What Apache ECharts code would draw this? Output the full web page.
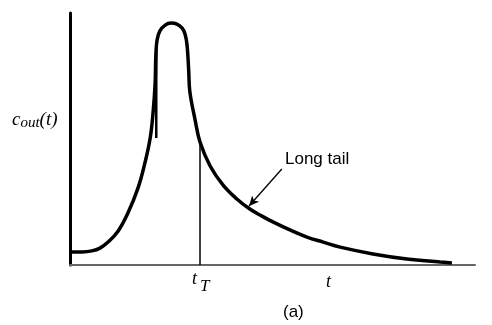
<!DOCTYPE html>
<html><head><meta charset="utf-8">
<script src="https://cdn.jsdelivr.net/npm/echarts@6/dist/echarts.min.js"></script>
<style>html,body{margin:0;padding:0;background:#fff}#c{width:492px;height:325px}</style>
</head><body><div id="c"></div>
<script>
// Outlet concentration curve (time in arbitrary units, concentration normalised)
var timeValues = [0.05,0.30,0.54,0.74,0.94,1.19,1.43,1.68,1.85,1.98,2.05,2.10,2.12,2.15,2.22,2.35,2.49,2.64,2.77,2.84,2.89,2.93,2.96,3.09,3.21,3.46,3.78,4.12,4.44,4.74,5.01,5.43,5.85,6.25,6.67,7.48,8.32,9.14,9.43];
var concValues = [0.052,0.052,0.056,0.067,0.091,0.135,0.206,0.306,0.405,0.504,0.603,0.714,0.833,0.893,0.929,0.952,0.960,0.956,0.940,0.917,0.873,0.774,0.687,0.575,0.488,0.393,0.317,0.262,0.222,0.194,0.171,0.139,0.111,0.091,0.071,0.044,0.024,0.012,0.008];
var tT = 3.21, cAtTT = 0.488;
var stubT = 2.13, stubTop = 0.88, stubBottom = 0.504;
var arrowFrom = [5.23, 0.381], arrowTo = [4.42, 0.234];
var tickLabels = {tT: 'T', t: 't'};

var curve = timeValues.map(function(t,i){return [t, concValues[i]];});
var chart = echarts.init(document.getElementById('c'));
chart.setOption({
  animation:false,
  backgroundColor:'#fff',
  grid:{left:70,right:17,top:13,bottom:60},
  xAxis:{type:'value',min:0,max:10,
    axisLine:{show:true,onZero:false,lineStyle:{color:'#666',width:2}},
    axisTick:{show:false},axisLabel:{show:false},splitLine:{show:false}},
  yAxis:{type:'value',min:0,max:1,
    axisLine:{show:true,lineStyle:{color:'#000',width:3}},
    axisTick:{show:false},axisLabel:{show:false},splitLine:{show:false}},
  series:[
    {type:'line',data:curve,showSymbol:false,smooth:0.4,
     lineStyle:{color:'#000',width:3.5},
     markLine:{silent:true,symbol:['none','arrow'],symbolSize:[7,10],
       lineStyle:{color:'#000',width:1.3,type:'solid'},label:{show:false},
       data:[[{coord:arrowFrom},{coord:arrowTo}]]}},
    {type:'line',data:[[tT,0],[tT,cAtTT]],showSymbol:false,lineStyle:{color:'#000',width:1.5}},
    {type:'line',data:[[stubT,stubBottom],[stubT,stubTop]],showSymbol:false,lineStyle:{color:'#000',width:2.5}}
  ],
  graphic:[
    {type:'text',left:12,top:110,style:{
      text:'{c|c}{s|out}{c|(t)}',
      rich:{c:{fontFamily:'Liberation Serif',fontStyle:'italic',fontSize:19,fill:'#000'},
            s:{fontFamily:'Liberation Serif',fontStyle:'italic',fontSize:15,fill:'#000',verticalAlign:'bottom',padding:[8,0,0,0]}}}},
    {type:'text',left:192,top:270,style:{
      text:'{c|t}{s|'+tickLabels.tT+'}',
      rich:{c:{fontFamily:'Liberation Serif',fontStyle:'italic',fontSize:18,fill:'#000',verticalAlign:'top'},
            s:{fontFamily:'Liberation Serif',fontStyle:'italic',fontSize:17,fill:'#000',padding:[8,0,0,3]}}}},
    {type:'text',left:326,top:273,style:{text:tickLabels.t,fontFamily:'Liberation Serif',fontStyle:'italic',fontSize:18,fill:'#000'}},
    {type:'text',left:283,top:304,style:{text:'(a)',fontFamily:'Liberation Sans',fontSize:17,fill:'#000'}},
    {type:'text',left:285,top:151,style:{text:'Long tail',fontFamily:'Liberation Sans Narrow, Liberation Sans',fontSize:17,fill:'#000'}}
  ]
});
</script></body></html>
